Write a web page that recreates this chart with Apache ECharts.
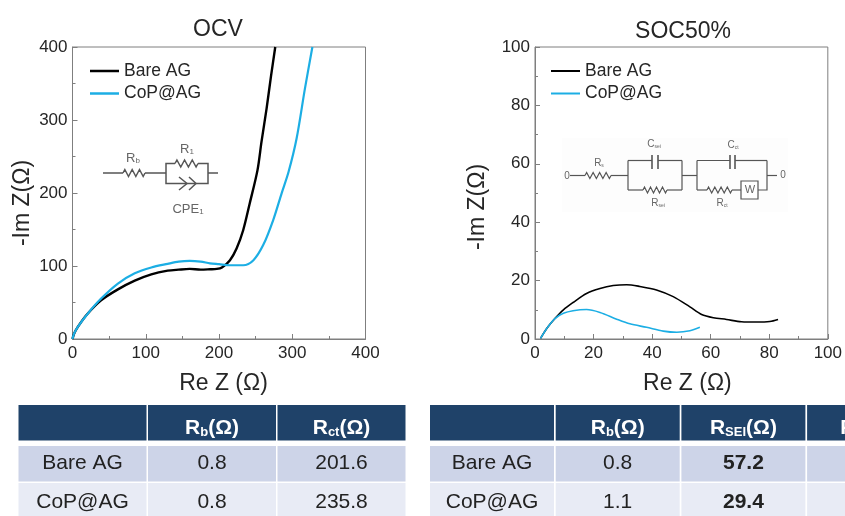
<!DOCTYPE html>
<html><head><meta charset="utf-8">
<style>html,body{margin:0;padding:0;background:#fff}#c{width:845px;height:516px}</style>
<script src="https://cdn.jsdelivr.net/npm/echarts@6/dist/echarts.min.js"></script>
</head><body><div id="c"></div>
<script>
const ocvBare=[[0,0],[2,7],[7.5,17],[20,34],[39,53],[62,68],[85,80],[107.6,88.6],[130,93.6],[145,95],[160,96],[175,95],[187.7,95.5],[197,96],[204,98],[215,108],[224,124],[233,149],[242,186],[252.5,231],[258,270],[265,316],[271,360],[276.8,400]];
const ocvCoP=[[0,0],[2,7],[7.5,17],[21,35],[39.4,55.7],[62,76],[85,90],[107.6,98],[130,103],[145,106],[160,107],[175,106],[187.7,103.7],[200,102.5],[215,101],[233,101],[247,108],[260.5,129],[274,163],[285.5,199.6],[295,229],[306,275],[317.3,343],[327.5,400]];
const socBare=[[1.9,0.2],[4,3.6],[6.8,7],[9.7,10],[13,12.5],[17.6,15.6],[22.2,17.3],[26.7,18.3],[31.3,18.6],[35.8,18],[41.5,16.8],[47.2,14.5],[52.9,11],[56.9,8.4],[60.9,7.3],[65.4,6.7],[70.5,5.9],[75.7,5.8],[80.2,6],[83,6.7]];
const socCoP=[[1.9,0.2],[4,3.6],[6.8,7],[9.7,8.8],[13,9.7],[17.6,10.1],[22.2,9.1],[27.9,6.8],[32.4,5.2],[38.1,4],[43.8,2.7],[48.4,2.3],[52.9,2.8],[56.3,4]];
const seriesNames=['Bare AG','CoP@AG'];
const rowNames=['Bare AG','CoP@AG'];
const leftHeaders=[['R','b'],['R','ct']];
const leftRb=['0.8','0.8'];
const leftRct=['201.6','235.8'];
const rightHeaders=[['R','b'],['R','SEI'],['R','ct']];
const rightRb=['0.8','1.1'];
const rightRsei=['57.2','29.4'];

const FONT='"Liberation Sans", Arial, sans-serif';
const BLACK='#000000', BLUE='#1CAEE4', AX='#7f7f7f', TXT='#262626';

function axis(type,idx,max,interval,name,gap,pad){
  return {type:'value',gridIndex:idx,min:0,max:max,interval:interval,name:name,nameLocation:'middle',nameGap:gap,
    nameTextStyle:{fontFamily:FONT,fontSize:23,color:TXT,padding:pad},
    axisLine:{show:true,onZero:false,lineStyle:{color:AX,width:1}},
    axisTick:{show:true,inside:true,length:5,lineStyle:{color:AX}},
    minorTick:{show:true,splitNumber:2,length:3,lineStyle:{color:AX}},
    splitLine:{show:false},minorSplitLine:{show:false},
    axisLabel:{fontFamily:FONT,fontSize:17,color:TXT,margin:type==='x'?6:5,hideOverlap:false,showMinLabel:true,showMaxLabel:true}};
}
function line(name,data,color,w,xi,yi){
  return {type:'line',name:name,data:data,xAxisIndex:xi,yAxisIndex:yi,showSymbol:false,smooth:0.3,clip:true,
    lineStyle:{color:color,width:w},itemStyle:{color:color},z:3,animation:false};
}
function legend(left,h){
  return {left:left,top:62,orient:'vertical',itemWidth:29,itemHeight:h,itemGap:4.5,padding:0,
    icon:'rect',selectedMode:false,
    data:seriesNames.map((n,i)=>({name:n,itemStyle:{color:i?BLUE:BLACK}})),
    textStyle:{fontFamily:FONT,fontSize:17.5,color:TXT,padding:[-7,0,0,0],lineHeight:19}};
}

/* ---------- tables ---------- */
const HEAD='#1F4269', ROW1='#CDD4E8', ROW2='#E8EBF5';
function rect(x,y,w,h,fill){return {type:'rect',silent:true,shape:{x,y,width:w,height:h},style:{fill}};}
function text(x,y,t,opts){
  return {type:'text',silent:true,x,y,style:Object.assign({text:t,fontFamily:FONT,fontSize:21,fill:'#222',align:'center',verticalAlign:'middle'},opts||{})};
}
function headerText(x,y,h){
  return {type:'text',silent:true,x,y,style:{
    text:'{m|'+h[0]+'}{s|'+h[1]+'}{m|(Ω)}',align:'center',verticalAlign:'middle',
    rich:{m:{fontFamily:FONT,fontSize:21,lineHeight:21,fontWeight:'bold',fill:'#fff',verticalAlign:'top',padding:[0,0,6,0]},
          s:{fontFamily:FONT,fontSize:13,lineHeight:13,fontWeight:'bold',fill:'#fff',verticalAlign:'bottom'}}}};
}
function table(x0,colW,gap,headers,cols,boldCol){
  const out=[]; const n=headers.length+1;
  const hy=405,hh=35.5,r1=446,r1h=35.5,r2=483,r2h=33;
  for(let c=0;c<n;c++){
    const x=x0+c*(colW+gap);
    out.push(rect(x,hy,colW,hh,HEAD));
    out.push(rect(x,r1,colW,r1h,ROW1));
    out.push(rect(x,r2,colW,r2h,ROW2));
    const cx=x+colW/2;
    if(c>0) out.push(headerText(cx,428,headers[c-1]));
    [[463,0],[502,1]].forEach(([cy,i])=>{
      if(c===0) out.push(text(cx,cy,rowNames[i]));
      else if(cols[c-1]) out.push(text(cx,cy,cols[c-1][i],c-1===boldCol?{fontWeight:'bold'}:{}));
    });
  }
  return out;
}

/* ---------- circuit schematics ---------- */
const CG='#555';
function pl(points,w,col){return {type:'polyline',silent:true,shape:{points},style:{stroke:col||CG,lineWidth:w||1.5,fill:null}};}
function zig(x,y,len,n,amp){
  const p=[[x,y]],st=len/(2*n);
  for(let i=0;i<2*n;i++){p.push([x+st*(i+0.5),y+(i%2?amp:-amp)]);}
  p.push([x+len,y]);return p;
}
function lbl(x,y,t,sz,col){return text(x,y,t,{fontSize:sz,fill:col||'#666'});}
function lblSub(x,y,a,b,sz,ss){
  return {type:'text',silent:true,x,y,style:{text:'{a|'+a+'}{b|'+b+'}',align:'center',verticalAlign:'middle',
    rich:{a:{fontFamily:FONT,fontSize:sz,fill:'#666'},b:{fontFamily:FONT,fontSize:ss,fill:'#666',verticalAlign:'bottom',padding:[sz*0.3,0,0,0]}}}};
}
const circuitOCV=[
  pl([[103,173],[123,173]]),pl(zig(123,173,22,3,3.5)),pl([[145,173],[166,173]]),
  pl([[166,173],[166,163.5],[175,163.5]]),pl(zig(175,163.5,23,3,3.5)),pl([[198,163.5],[208,163.5],[208,183.5],[166,183.5],[166,173]]),
  pl([[208,173],[218,173]]),
  pl([[179,177],[187,183.5],[179,190]]),pl([[189,177],[196,183.5],[189,190]]),
  lblSub(133,158,'R','b',13,8),lblSub(187,149,'R','1',13,8),lblSub(188,209,'CPE','1',13,8)
];
const cw=1.2;
const circuitSOC=[
  {type:'rect',silent:true,shape:{x:562,y:138,width:226,height:74},style:{fill:'#fdfdfd'}},
  pl([[570,175.5],[585,175.5]],cw),pl(zig(585,175.5,26,4,3),cw),pl([[611,175.5],[628,175.5]],cw),
  pl([[628,160.5],[628,190]],cw),
  pl([[628,160.5],[652,160.5]],cw),pl([[652,155],[652,169]],1.6),pl([[658,155],[658,169]],1.6),pl([[658,160.5],[682,160.5]],cw),
  pl([[628,190],[643,190]],cw),pl(zig(643,190,24,4,3),cw),pl([[667,190],[682,190]],cw),
  pl([[682,160.5],[682,190]],cw),pl([[682,175.5],[697,175.5]],cw),
  pl([[697,160.5],[697,190]],cw),
  pl([[697,160.5],[730,160.5]],cw),pl([[730,155],[730,169]],1.6),pl([[735,155],[735,169]],1.6),pl([[735,160.5],[767,160.5]],cw),
  pl([[697,190],[707,190]],cw),pl(zig(707,190,25,4,3),cw),pl([[732,190],[741,190]],cw),
  {type:'rect',silent:true,shape:{x:741,y:181,width:17,height:18},style:{fill:'#fff',stroke:CG,lineWidth:1.2}},
  pl([[758,190],[767,190],[767,160.5]],cw),pl([[767,175.5],[777,175.5]],cw),
  lbl(567,176,'0',10),lbl(783,175,'0',10),lbl(750,190,'W',11),
  lblSub(599,163,'R','s',10,5),lblSub(654,144,'C','sei',10,5),lblSub(658,203,'R','sei',10,5),lblSub(733,145,'C','ct',10,5),lblSub(722,203,'R','ct',10,5)
];

const chart=echarts.init(document.getElementById('c'),null,{renderer:'canvas'});
chart.setOption({
  animation:false,backgroundColor:'#fff',
  textStyle:{fontFamily:FONT},
  title:[
    {text:'OCV',left:218,top:18,textAlign:'center',padding:0,textStyle:{fontFamily:FONT,fontSize:23,fontWeight:'normal',color:TXT}},
    {text:'SOC50%',left:683,top:20,textAlign:'center',padding:0,textStyle:{fontFamily:FONT,fontSize:23,fontWeight:'normal',color:TXT}}
  ],
  legend:[legend(90,2.5),legend(551,2)],
  grid:[
    {left:72.5,top:47,width:293,height:292,show:true,borderColor:AX,borderWidth:1,backgroundColor:'transparent',containLabel:false},
    {left:535,top:47,width:293,height:292,show:true,borderColor:AX,borderWidth:1,backgroundColor:'transparent',containLabel:false}
  ],
  xAxis:[axis('x',0,400,100,'Re Z (Ω)',33,[0,0,0,9]),axis('x',1,100,20,'Re Z (Ω)',33,[0,0,0,12])],
  yAxis:[axis('y',0,400,100,'-Im Z(Ω)',38,[0,20,0,0]),axis('y',1,100,20,'-Im Z(Ω)',46,[0,28,0,0])],
  series:[
    line(seriesNames[0],ocvBare,BLACK,2.4,0,0),
    line(seriesNames[1],ocvCoP,BLUE,2.2,0,0),
    line(seriesNames[0],socBare,BLACK,1.6,1,1),
    line(seriesNames[1],socCoP,BLUE,1.6,1,1)
  ],
  graphic:{elements:[
    {type:'group',children:circuitOCV},
    {type:'group',children:circuitSOC},
    {type:'group',children:table(18.5,128,1.5,leftHeaders,[leftRb,leftRct],-1)},
    {type:'group',children:table(430,124,1.7,rightHeaders,[rightRb,rightRsei,null],1)}
  ]}
});
</script></body></html>
